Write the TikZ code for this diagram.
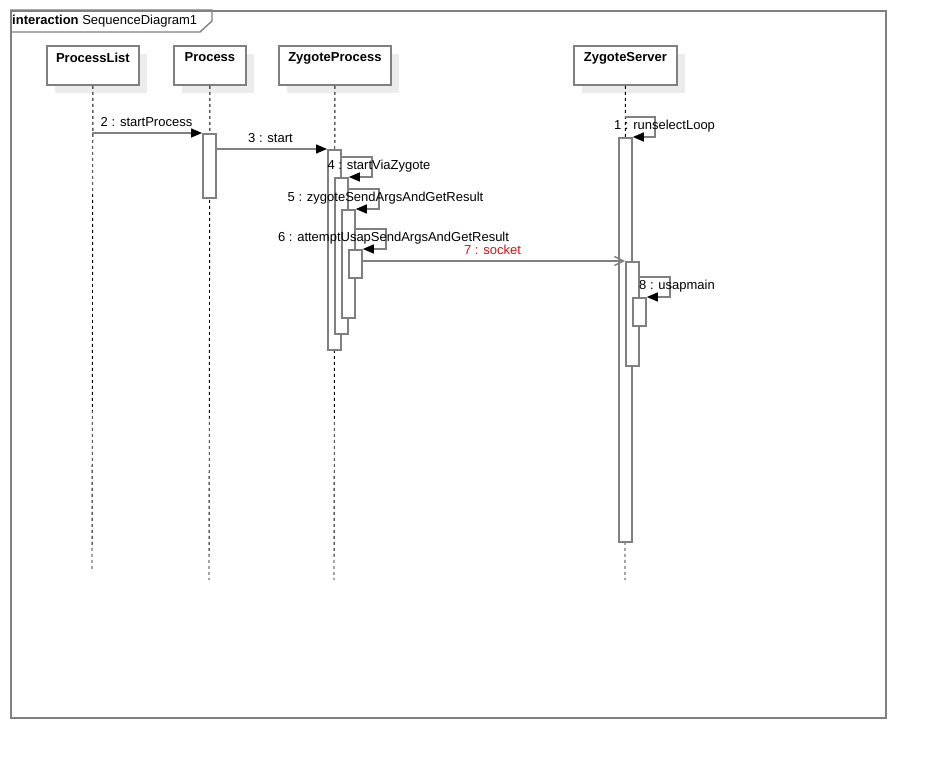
\documentclass[tikz,border=0pt]{standalone}
\usepackage{fontspec}
\setmainfont{Liberation Sans}
\usetikzlibrary{arrows.meta,shadows}
\definecolor{lg}{RGB}{128,128,128}
\definecolor{shd}{RGB}{236,236,236}
\definecolor{msgred}{RGB}{208,20,20}
\newcommand\diagfont{\fontsize{13pt}{15.6pt}\selectfont}
\begin{document}
\begin{tikzpicture}[x=1pt,y=-1pt,
  font=\diagfont,
  frame/.style={draw=lg, line width=1.8pt, minimum width=875pt, minimum height=707pt, anchor=north west, inner sep=0pt},
  headtxt/.style={anchor=north, inner sep=0pt, yshift=-7.5pt, font=\diagfont\bfseries},
  head/.style n args={2}{draw=lg, line width=1.8pt, fill=white, minimum width=#1, minimum height=39pt, anchor=north west, inner sep=0pt,
     drop shadow={shadow xshift=8pt,shadow yshift=-8pt,fill=shd,opacity=1,draw=none}, label={[headtxt]north:#2}},
  act/.style={draw=lg, line width=1.8pt, fill=white, minimum width=13pt, minimum height=#1, anchor=north west, inner sep=0pt},
  life/.style={draw=black, line width=0.9pt, dash pattern=on 3pt off 3pt},
  msg/.style={draw=lg, line width=1.4pt, -{Triangle[length=11pt,width=9pt,color=black]}},
  async/.style={draw=lg, line width=1.4pt, -{Straight Barb[length=9pt,width=9pt]}},
  lbl/.style={anchor=base, inner sep=0pt}
]
\useasboundingbox (0,0) rectangle (925,757);
% frame
\node[frame] (fr) at (10,10) {};
\draw[draw=lg, line width=1.4pt] (fr.north west) -| ([xshift=202pt, yshift=-11pt]fr.north west) -- ([xshift=190pt,yshift=-22pt]fr.north west) -- ([yshift=-22pt]fr.north west);
\node[anchor=base west, inner sep=0pt] (ft) at (12,24.6) {\textbf{interaction} SequenceDiagram1};
% heads
\node[head={92pt}{ProcessList}] (pl) at (46,45) {};
\node[head={72pt}{Process}] (pa) at (173,45) {};
\node[head={112pt}{ZygoteProcess}] (zp) at (278,45) {};
\node[head={103pt}{ZygoteServer}] (zs) at (573,45) {};
% lifelines
\coordinate (ple) at (92,572);
\coordinate (pae) at (209,580);
\coordinate (zpe) at (334,580);
\coordinate (zse) at (625,580);
\draw[life] (pl.south) -- (ple);
\draw[life] (pa.south) -- (pae);
\draw[life] (zp.south) -- (zpe);
\draw[life] (zs.south) -- (zse);
% activations
\node[act=64pt] (pa1) at (202,133) {};
\node[act=200pt] (zp1) at (327,149) {};
\node[act=156pt] (zp2) at (334,177) {};
\node[act=108pt] (zp3) at (341,209) {};
\node[act=28pt] (zp4) at (348,249) {};
\node[act=404pt] (zs1) at (618,137) {};
\node[act=104pt] (zs2) at (625,261) {};
\node[act=28pt] (zs3) at (632,297) {};
% messages
\coordinate (m2s) at (92,133);
\draw[msg] (m2s) -- (pa1.north west);
\draw[msg] (zp1.north west -| pa1.east) -- (zp1.north west);
\draw[msg] ([yshift=-8pt]zp1.north east) -- ++(30,0) |- (zp2.north east);
\draw[msg] ([yshift=-12pt]zp2.north east) -- ++(30,0) |- (zp3.north east);
\draw[msg] ([yshift=-20pt]zp3.north east) -- ++(30,0) |- (zp4.north east);
\draw[async] (zs2.north west -| zp4.east) -- (zs2.north west);
\coordinate (m1s) at (625,117);
\draw[msg] (m1s) -- ++(30,0) |- (zs1.north east);
\draw[msg] ([yshift=-16pt]zs2.north east) -- ++(30,0) |- (zs3.north east);
% labels
\node[lbl] (t2) at (146.5,126.6) {2 : startProcess};
\node[lbl] (t3) at (270.5,142.6) {3 : start};
\node[lbl] (t4) at (379,169.6) {4 : startViaZygote};
\node[lbl] (t5) at (385.5,201.6) {5 : zygoteSendArgsAndGetResult};
\node[lbl] (t6) at (393.5,241.6) {6 : attemptUsapSendArgsAndGetResult};
\node[lbl, text=msgred] (t7) at (492.5,254.6) {7 : socket};
\node[lbl] (t1) at (664.5,129.6) {1 : runselectLoop};
\node[lbl] (t8) at (677,289.6) {8 : usapmain};
\end{tikzpicture}
\end{document}
